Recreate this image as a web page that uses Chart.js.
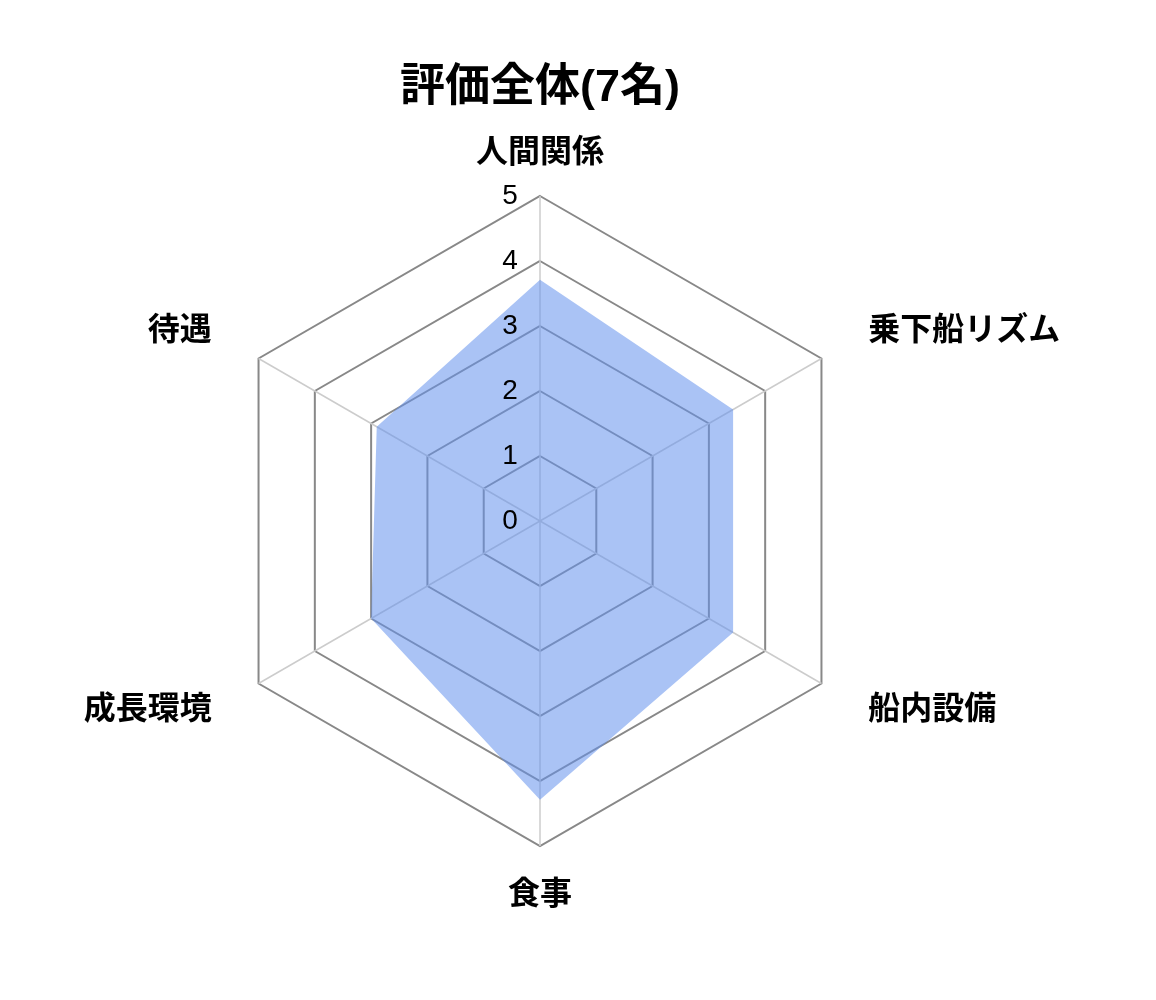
<!DOCTYPE html>
<html lang="ja">
<head>
<meta charset="utf-8">
<title>評価全体(7名)</title>
<script src="https://cdn.jsdelivr.net/npm/chart.js@4/dist/chart.umd.min.js"></script>
<style>
  html, body { margin: 0; padding: 0; background: #fff; }
  #wrap { width: 1080px; height: 1000px; }
</style>
</head>
<body>
<div id="wrap"><canvas id="radarChart"></canvas></div>
<script>
const categories = ['人間関係', '乗下船リズム', '船内設備', '食事', '成長環境', '待遇'];
const scores = [3.71, 3.43, 3.43, 4.29, 3.0, 2.9];
const tickValues = [0, 1, 2, 3, 4, 5];

const FONT = "'Liberation Sans', 'Noto Sans CJK JP', sans-serif";

// extra gap for each category label beyond the tick backdrop offset (top, sides, bottom)
const labelGap = i => (i === 0 ? 0 : i === 3 ? 6 : 11);

const ctx = document.getElementById('radarChart').getContext('2d');
new Chart(ctx, {
    type: 'radar',
    data: {
        labels: categories,
        datasets: [{
            label: '評価',
            data: scores,
            backgroundColor: 'rgba(100, 145, 237, 0.55)',
            borderWidth: 0,
            pointRadius: 0,
            fill: true
        }]
    },
    options: {
        responsive: true,
        maintainAspectRatio: false,
        animation: false,
        layout: { padding: { top: 0, bottom: 102, left: 0, right: 0 } },
        plugins: {
            legend: { display: false },
            tooltip: { enabled: false },
            title: {
                display: true,
                text: '評価全体(7名)',
                color: '#000',
                font: { family: FONT, size: 45, weight: 'bold' },
                padding: { top: 62, bottom: 34 }
            }
        },
        scales: {
            r: {
                min: -0.001,
                max: 5,
                ticks: {
                    stepSize: 1,
                    includeBounds: false,
                    z: 1,
                    color: '#000',
                    font: { family: FONT, size: 28 },
                    showLabelBackdrop: false,
                    backdropPadding: 29,
                    // trailing spaces push the digit left of the axis
                    callback: v => tickValues.includes(Math.round(v)) ? Math.round(v) + '       \u2009' : ''
                },
                grid: { color: '#888', lineWidth: 2 },
                angleLines: { color: '#ccc', lineWidth: 1.5 },
                pointLabels: {
                    color: '#000',
                    padding: c => labelGap(c.index),
                    font: { family: FONT, size: 32, weight: 'bold', lineHeight: 0 }
                }
            }
        }
    }
});
</script>
</body>
</html>
